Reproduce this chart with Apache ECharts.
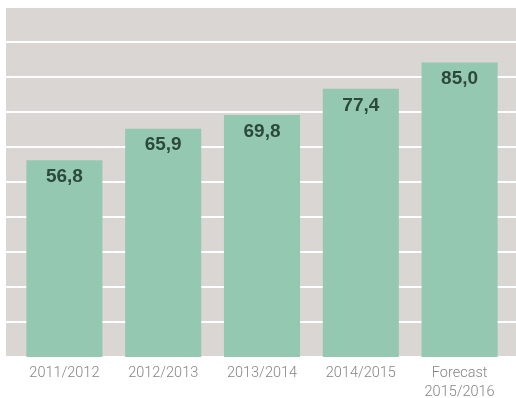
<!DOCTYPE html>
<html>
<head>
<meta charset="utf-8">
<script src="https://cdn.jsdelivr.net/npm/echarts@6/dist/echarts.min.js"></script>
<style>
html,body{margin:0;padding:0;background:#fff;}
#chart{width:516px;height:398px;}
</style>
</head>
<body>
<div id="chart"></div>
<script>
var categories = ['2011/2012', '2012/2013', '2013/2014', '2014/2015', 'Forecast\n2015/2016'];
var values = [56.8, 65.9, 69.8, 77.4, 85.0];
var yMin = 0, yMax = 100, yInterval = 10;
var barAxisMax = 101;

var chart = echarts.init(document.getElementById('chart'), null, {renderer: 'canvas'});
chart.setOption({
  animation: false,
  grid: [
    {left: 6, right: 0, top: 7, bottom: 41, show: true, backgroundColor: '#d9d6d3', borderWidth: 0, outerBoundsMode: 'none', containLabel: false},
    {left: 15, right: 7, top: 7, bottom: 41, outerBoundsMode: 'none', containLabel: false}
  ],
  xAxis: [
    {gridIndex: 0, type: 'value', min: 0, max: 1, show: false},
    {gridIndex: 1, type: 'category', data: categories,
     axisLine: {show: false}, axisTick: {show: false},
     axisLabel: {color: '#858585', fontSize: 14.5, fontFamily: 'Roboto', fontWeight: 300, lineHeight: 19, margin: 7}}
  ],
  yAxis: [
    {gridIndex: 0, type: 'value', min: yMin, max: yMax, interval: yInterval,
     axisLine: {show: false}, axisTick: {show: false}, axisLabel: {show: false},
     splitLine: {show: true, lineStyle: {color: '#ffffff', width: 2}}},
    {gridIndex: 1, type: 'value', min: yMin, max: barAxisMax, show: false,
     splitLine: {show: false}}
  ],
  series: [{
    type: 'bar', xAxisIndex: 1, yAxisIndex: 1,
    data: values,
    barCategoryGap: '23%',
    itemStyle: {color: '#95c8b1'},
    label: {
      show: true, position: 'insideTop', distance: 7,
      color: '#2b4a3c', fontSize: 19, fontWeight: 'bold', fontFamily: 'Liberation Sans',
      formatter: function (p) { return p.value.toFixed(1).replace('.', ','); }
    }
  }]
});
</script>
</body>
</html>
